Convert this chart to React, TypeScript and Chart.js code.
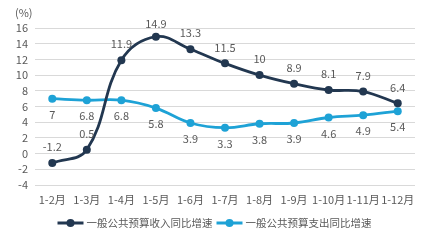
import React, { useEffect, useRef } from "react";
import { Chart, registerables } from "chart.js";

Chart.register(...registerables);

const categories = ["1-2月", "1-3月", "1-4月", "1-5月", "1-6月", "1-7月", "1-8月", "1-9月", "1-10月", "1-11月", "1-12月"];
const revenueGrowth = [-1.2, 0.5, 11.9, 14.9, 13.3, 11.5, 10, 8.9, 8.1, 7.9, 6.4];
const expenditureGrowth = [7, 6.8, 6.8, 5.8, 3.9, 3.3, 3.8, 3.9, 4.6, 4.9, 5.4];
const seriesNames = ["一般公共预算收入同比增速", "一般公共预算支出同比增速"];
const unitLabel = "(%)";

const DARK = "#223750";
const BLUE = "#1EA2D6";
const TEXT = "#595959";
const FONT = "'Noto Sans CJK SC', 'Noto Sans', sans-serif";

const overlayPlugin = {
  id: "overlay",
  afterDatasetsDraw(chart: any) {
    const ctx = chart.ctx;
    ctx.save();
    ctx.font = `11px ${FONT}`;
    ctx.fillStyle = TEXT;
    ctx.textAlign = "center";
    ctx.textBaseline = "middle";
    chart.data.datasets.forEach((ds: any, di: number) => {
      const meta = chart.getDatasetMeta(di);
      meta.data.forEach((pt: any, i: number) => {
        const v = ds.data[i];
        let y = di === 0 ? pt.y - 16 : pt.y + 16;
        if (di === 0) y = Math.max(y, 24);
        ctx.fillText(String(v), pt.x, y);
      });
    });
    // unit label
    ctx.textAlign = "left";
    ctx.fillText(unitLabel, 15, 13);
    // legend
    ctx.font = `10.5px ${FONT}`;
    const colors = [DARK, BLUE];
    const symW = 26;
    const gapText = 3;
    const gapItem = 4;
    const widths = seriesNames.map((n) => symW + gapText + ctx.measureText(n).width);
    const total = widths[0] + gapItem + widths[1];
    let x = chart.width / 2 - total / 2;
    const ly = 223;
    seriesNames.forEach((n, i) => {
      ctx.strokeStyle = colors[i];
      ctx.lineWidth = 3;
      ctx.beginPath();
      ctx.moveTo(x, ly);
      ctx.lineTo(x + symW, ly);
      ctx.stroke();
      ctx.fillStyle = colors[i];
      ctx.beginPath();
      ctx.arc(x + symW / 2, ly, 4, 0, Math.PI * 2);
      ctx.fill();
      ctx.fillStyle = TEXT;
      ctx.textAlign = "left";
      ctx.fillText(n, x + symW + gapText, ly);
      x += widths[i] + gapItem;
    });
    ctx.restore();
  },
};

export default function App() {
  const ref = useRef<HTMLCanvasElement | null>(null);
  useEffect(() => {
    document.body.style.margin = "0";
    if (!ref.current) return;
    const chart = new Chart(ref.current, {
      type: "line",
      data: {
        labels: categories,
        datasets: [
          {
            label: seriesNames[0],
            data: revenueGrowth,
            borderColor: DARK,
            backgroundColor: DARK,
            borderWidth: 2.8,
            pointRadius: 4,
            pointBackgroundColor: DARK,
            pointBorderWidth: 0,
            tension: 0.4,
          },
          {
            label: seriesNames[1],
            data: expenditureGrowth,
            borderColor: BLUE,
            backgroundColor: BLUE,
            borderWidth: 2.8,
            pointRadius: 4,
            pointBackgroundColor: BLUE,
            pointBorderWidth: 0,
            tension: 0.4,
          },
        ],
      },
      options: {
        animation: false,
        responsive: false,
        maintainAspectRatio: false,
        layout: { padding: { top: 28, right: 14, bottom: 33, left: 0 } },
        plugins: { legend: { display: false }, tooltip: { enabled: false } },
        scales: {
          x: {
            offset: true,
            grid: { display: false, drawTicks: false },
            border: { display: false },
            ticks: { color: TEXT, font: { size: 11, family: FONT }, padding: 8, maxRotation: 0, autoSkip: false },
            afterFit: (s: any) => { s.height = 24; },
          },
          y: {
            min: -4,
            max: 16,
            ticks: { stepSize: 2, autoSkip: false, color: TEXT, font: { size: 11, family: FONT }, padding: 7 },
            grid: { color: "#d9d9d9", lineWidth: 1, drawTicks: false },
            border: { display: false },
            afterFit: (s: any) => { s.width = 35; },
          },
        },
      },
      plugins: [overlayPlugin],
    });
    return () => chart.destroy();
  }, []);
  return (
    <div style={{ width: 429, height: 242 }}>
      <canvas ref={ref} width={429} height={242} style={{ width: 429, height: 242, display: "block" }} />
    </div>
  );
}
